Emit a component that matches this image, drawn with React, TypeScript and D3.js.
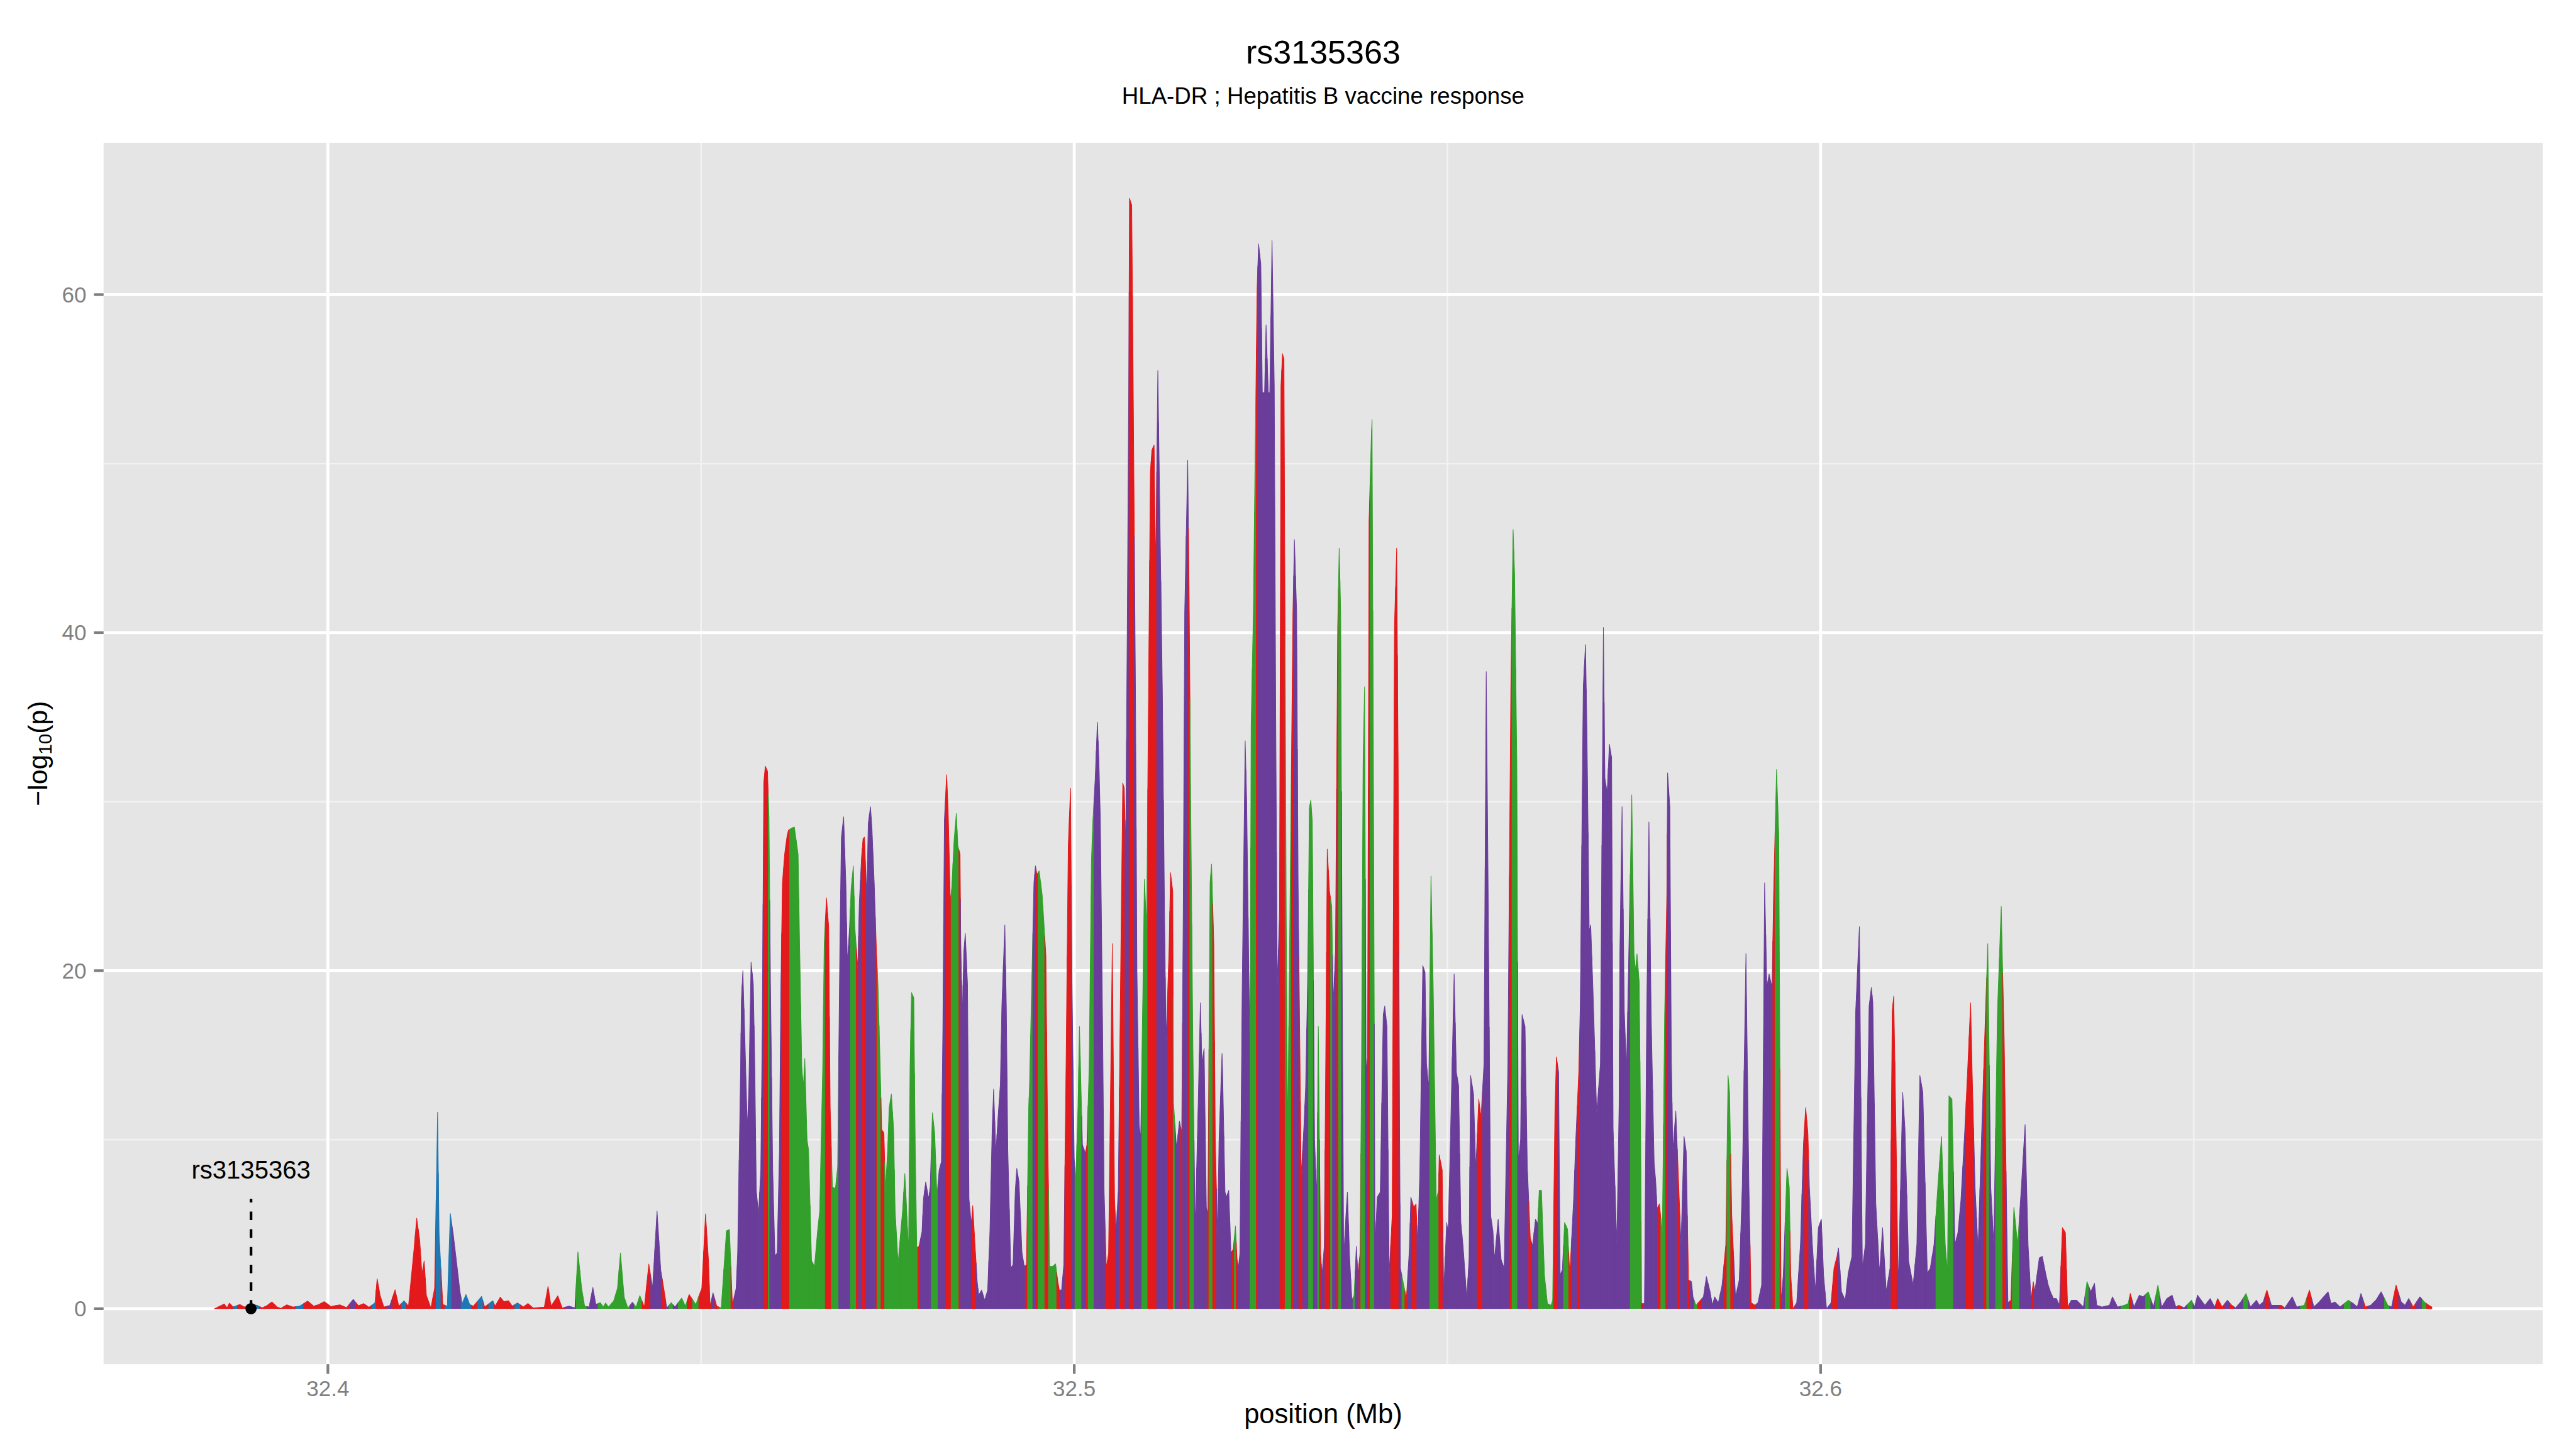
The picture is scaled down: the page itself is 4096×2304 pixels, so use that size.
import React from 'react';
import * as d3 from 'd3';

// reference canvas is 4800x2700, drawn into a 4096x2304 window via viewBox
const W = 4800;
const H = 2700;
const panel = { left: 193, right: 4738, top: 266, bottom: 2542 };

// [position (Mb), -log10(p), LD bin]  r = red, b = blue, g = green, p = purple
type Snp = [number, number, string];

const leftFlank: Snp[] = [
  [32.3848, 0, 'r'], [32.3861, 0.28, 'r'], [32.3865, 0.05, 'r'], [32.3868, 0.33, 'r'], [32.3873, 0.1, 'r'],
  [32.3876, 0.15, 'b'], [32.3882, 0.25, 'r'], [32.3888, 0.1, 'r'], [32.3897, 0.25, 'r'], [32.3905, 0.2, 'b'],
  [32.3912, 0.05, 'r'], [32.3918, 0.17, 'r'], [32.3925, 0.4, 'r'], [32.3932, 0.1, 'r'], [32.3937, 0.02, 'r'],
  [32.3945, 0.23, 'r'], [32.3953, 0.1, 'r'], [32.3962, 0.15, 'b'], [32.3973, 0.45, 'r'], [32.3981, 0.15, 'r'],
  [32.3988, 0.25, 'r'], [32.3995, 0.42, 'r'], [32.4004, 0.13, 'r'], [32.4016, 0.23, 'r'], [32.4025, 0.06, 'r'],
  [32.4034, 0.55, 'p'], [32.4041, 0.17, 'r'], [32.4048, 0.3, 'r'], [32.4055, 0.08, 'r'], [32.4063, 0.34, 'b'],
  [32.4066, 1.77, 'r'], [32.4070, 0.78, 'r'], [32.4075, 0.1, 'r'], [32.4083, 0.19, 'p'], [32.4090, 1.12, 'r'],
  [32.4095, 0.15, 'r'], [32.4102, 0.47, 'b'], [32.4108, 0.15, 'r'], [32.4115, 3.33, 'r'], [32.4119, 5.35, 'r'],
  [32.4123, 4.07, 'r'], [32.4126, 2.06, 'r'], [32.4129, 2.82, 'r'], [32.4132, 0.78, 'r'], [32.4138, 0.04, 'r'],
  [32.4143, 1.21, 'r'], [32.4147, 11.62, 'b'], [32.4149, 4.39, 'b'], [32.4154, 0.25, 'r'], [32.4160, 0.15, 'b'],
  [32.4164, 5.63, 'b'], [32.4168, 4.39, 'p'], [32.4172, 2.91, 'p'], [32.4177, 1.0, 'p'], [32.4180, 0.31, 'b'],
  [32.4185, 0.84, 'b'], [32.4190, 0.25, 'b'], [32.4195, 0.15, 'r'], [32.4206, 0.73, 'b'], [32.4210, 0.1, 'r'],
  [32.4221, 0.47, 'b'], [32.4224, 0.15, 'r'], [32.4231, 0.68, 'r'], [32.4236, 0.41, 'r'], [32.4242, 0.47, 'r'],
  [32.4247, 0.15, 'r'], [32.4254, 0.34, 'b'], [32.4262, 0.1, 'r'], [32.4268, 0.31, 'r'], [32.4275, 0.04, 'r'],
  [32.4290, 0.1, 'r'], [32.4295, 1.32, 'r'], [32.4299, 0.15, 'r'], [32.4308, 0.76, 'r'], [32.4314, 0.04, 'r'],
  [32.4323, 0.15, 'p'], [32.4331, 0.04, 'p'], [32.4335, 3.36, 'g'], [32.4340, 1.21, 'g'], [32.4344, 0.15, 'g'],
  [32.4350, 0.1, 'p'], [32.4355, 1.26, 'p'], [32.4359, 0.25, 'p'], [32.4365, 0.36, 'g'], [32.4369, 0.1, 'g'],
  [32.4372, 0.34, 'g'], [32.4376, 0.1, 'g'], [32.4383, 0.47, 'g'], [32.4388, 1.21, 'g'], [32.4392, 3.3, 'g'],
  [32.4397, 0.68, 'g'], [32.4402, 0.04, 'g'], [32.4408, 0.38, 'p'], [32.4413, 0.1, 'g'], [32.4418, 0.78, 'g'],
  [32.4424, 0.1, 'r'], [32.4430, 2.64, 'r'], [32.4435, 1.21, 'p'], [32.4441, 5.79, 'p'], [32.4446, 2.27, 'p'],
  [32.4450, 1.21, 'r'], [32.4454, 0.04, 'p'], [32.4460, 0.36, 'g'], [32.4465, 0.1, 'p'], [32.4474, 0.63, 'g'],
  [32.4479, 0.15, 'g'], [32.4484, 0.84, 'r'], [32.4493, 0.25, 'g'], [32.4501, 1.21, 'r'], [32.4506, 5.61, 'r'],
  [32.4510, 2.8, 'r'], [32.4512, 0.15, 'r'], [32.4516, 0.94, 'p'], [32.4521, 0.15, 'r'], [32.4527, 0.04, 'g'],
  [32.4534, 4.6, 'g'], [32.4538, 4.69, 'g'], [32.4542, 0.25, 'r'], [32.4547, 1.21, 'p'],
];

const blockA: Snp[] = [
  [32.4549, 3.3, 'p'], [32.4553, 14.3, 'p'], [32.4554, 18.3, 'p'], [32.4556, 20.0, 'p'], [32.4559, 15.5, 'p'],
  [32.4562, 10.6, 'p'], [32.4564, 13.1, 'p'], [32.4567, 20.5, 'p'], [32.4570, 19.2, 'p'], [32.4572, 14.3, 'p'],
  [32.4574, 7.0, 'p'], [32.4577, 5.6, 'p'], [32.4580, 8.2, 'p'], [32.4582, 16.7, 'p'], [32.4584, 31.1, 'p'],
  [32.4586, 32.1, 'r'], [32.4589, 31.8, 'r'], [32.4591, 29.1, 'g'], [32.4593, 19.2, 'p'], [32.4596, 8.2, 'p'],
  [32.4599, 3.1, 'p'], [32.4602, 3.3, 'p'], [32.4605, 9.4, 'p'], [32.4607, 19.2, 'p'], [32.4609, 25.2, 'r'],
  [32.4612, 26.9, 'r'], [32.4615, 27.9, 'r'], [32.4617, 28.3, 'r'], [32.4620, 28.4, 'g'], [32.4625, 28.5, 'g'],
  [32.4630, 26.9, 'g'], [32.4632, 21.6, 'g'], [32.4635, 14.3, 'g'], [32.4637, 13.1, 'g'], [32.4639, 14.8, 'g'],
  [32.4642, 10.0, 'g'], [32.4644, 9.4, 'g'], [32.4648, 2.85, 'g'], [32.4652, 2.5, 'g'], [32.4656, 4.55, 'g'],
  [32.4659, 5.8, 'g'], [32.4663, 14.3, 'g'], [32.4665, 21.6, 'g'], [32.4668, 24.3, 'r'], [32.4671, 22.6, 'r'],
  [32.4673, 11.9, 'r'], [32.4676, 7.2, 'g'], [32.4680, 7.1, 'g'], [32.4683, 8.4, 'g'], [32.4686, 21.6, 'p'],
  [32.4688, 27.9, 'p'], [32.4691, 29.1, 'p'], [32.4694, 25.2, 'p'], [32.4696, 20.4, 'p'], [32.4699, 22.6, 'p'],
  [32.4701, 24.8, 'g'], [32.4704, 26.2, 'g'], [32.4706, 22.6, 'g'], [32.4710, 20.1, 'r'], [32.4712, 24.0, 'p'],
  [32.4715, 26.7, 'p'], [32.4717, 27.8, 'r'], [32.4719, 27.9, 'r'], [32.4722, 24.3, 'p'], [32.4724, 28.7, 'p'],
  [32.4727, 29.7, 'p'], [32.4729, 28.4, 'p'], [32.4732, 25.2, 'p'], [32.4735, 21.1, 'r'], [32.4737, 19.2, 'g'],
  [32.4740, 14.3, 'g'], [32.4742, 10.6, 'r'], [32.4745, 10.4, 'r'], [32.4747, 7.0, 'g'], [32.4750, 9.4, 'g'],
  [32.4752, 11.9, 'g'], [32.4755, 12.7, 'g'], [32.4758, 10.6, 'g'], [32.4760, 5.8, 'g'], [32.4764, 2.7, 'g'],
  [32.4767, 4.3, 'g'], [32.4770, 5.8, 'g'], [32.4773, 8.0, 'g'], [32.4775, 6.3, 'g'], [32.4778, 3.3, 'g'],
  [32.4780, 14.3, 'g'], [32.4782, 18.7, 'g'], [32.4785, 18.4, 'g'], [32.4787, 9.4, 'g'], [32.4789, 3.6, 'g'],
  [32.4792, 3.7, 'r'], [32.4796, 4.55, 'p'], [32.4798, 6.5, 'p'], [32.4801, 7.5, 'p'], [32.4805, 6.5, 'p'],
  [32.4807, 7.2, 'p'], [32.4810, 11.6, 'g'], [32.4813, 10.4, 'g'], [32.4816, 6.7, 'g'], [32.4819, 8.2, 'p'],
  [32.4822, 8.7, 'p'], [32.4824, 16.7, 'p'], [32.4826, 28.9, 'p'], [32.4829, 31.6, 'r'], [32.4831, 29.6, 'r'],
  [32.4834, 24.0, 'r'], [32.4836, 25.0, 'g'], [32.4839, 27.7, 'g'], [32.4842, 29.3, 'g'], [32.4844, 27.4, 'g'],
  [32.4847, 26.9, 'r'], [32.4848, 21.6, 'p'], [32.4850, 17.2, 'p'], [32.4852, 21.1, 'p'], [32.4854, 22.2, 'p'],
  [32.4857, 19.2, 'p'], [32.4859, 6.5, 'p'], [32.4862, 5.0, 'p'], [32.4864, 6.1, 'r'], [32.4867, 3.8, 'r'],
  [32.4870, 1.6, 'p'], [32.4872, 0.8, 'p'], [32.4876, 1.1, 'p'], [32.4880, 0.5, 'p'], [32.4884, 1.1, 'p'],
  [32.4887, 4.55, 'p'], [32.4890, 10.6, 'p'], [32.4892, 13.0, 'p'], [32.4895, 9.2, 'p'], [32.4898, 11.4, 'p'],
  [32.4901, 13.3, 'p'], [32.4903, 17.9, 'p'], [32.4907, 22.7, 'p'], [32.4909, 17.9, 'p'], [32.4911, 9.4, 'p'],
  [32.4915, 2.4, 'p'], [32.4918, 2.6, 'p'], [32.4921, 7.0, 'p'], [32.4923, 8.3, 'p'], [32.4926, 7.5, 'p'],
  [32.4930, 3.3, 'p'], [32.4933, 2.5, 'p'], [32.4936, 2.6, 'r'], [32.4939, 11.9, 'g'], [32.4940, 13.1, 'g'],
  [32.4943, 19.2, 'g'], [32.4946, 25.2, 'p'], [32.4948, 26.2, 'p'], [32.4950, 25.7, 'r'], [32.4953, 25.9, 'g'],
  [32.4957, 24.5, 'g'], [32.4959, 23.1, 'g'], [32.4962, 20.9, 'r'], [32.4964, 11.9, 'r'], [32.4967, 2.5, 'g'],
  [32.4971, 2.5, 'g'], [32.4975, 2.65, 'g'], [32.4978, 1.6, 'r'], [32.4980, 1.1, 'r'], [32.4983, 1.1, 'p'],
  [32.4986, 2.6, 'p'], [32.4989, 14.3, 'r'], [32.4992, 27.4, 'r'], [32.4995, 30.8, 'r'],
];

const blockB: Snp[] = [
  [32.4997, 19.2, 'p'], [32.5000, 8.9, 'p'], [32.5002, 7.5, 'g'], [32.5005, 11.9, 'g'], [32.5007, 16.7, 'g'],
  [32.5009, 13.1, 'g'], [32.5011, 9.7, 'p'], [32.5015, 9.2, 'p'], [32.5017, 9.7, 'r'], [32.5020, 14.3, 'g'],
  [32.5023, 26.5, 'g'], [32.5025, 28.9, 'g'], [32.5028, 31.3, 'p'], [32.5031, 34.7, 'p'], [32.5033, 32.5, 'p'],
  [32.5035, 28.9, 'p'], [32.5038, 16.7, 'p'], [32.5040, 7.0, 'p'], [32.5043, 2.4, 'r'], [32.5046, 3.3, 'r'],
  [32.5049, 14.3, 'r'], [32.5051, 21.6, 'r'], [32.5054, 6.5, 'r'], [32.5056, 4.55, 'p'], [32.5059, 7.0, 'p'],
  [32.5062, 19.2, 'r'], [32.5065, 31.1, 'r'], [32.5067, 30.8, 'r'], [32.5069, 27.0, 'p'], [32.5071, 40.3, 'p'],
  [32.5073, 54.6, 'p'], [32.5074, 65.7, 'r'], [32.5077, 65.3, 'r'], [32.5079, 54.6, 'r'], [32.5082, 36.8, 'p'],
  [32.5084, 20.0, 'p'], [32.5087, 10.9, 'p'], [32.5089, 10.0, 'p'], [32.5092, 18.9, 'g'], [32.5094, 25.4, 'g'],
  [32.5097, 22.5, 'g'], [32.5100, 39.0, 'r'], [32.5102, 49.5, 'r'], [32.5104, 50.8, 'r'], [32.5107, 51.1, 'r'],
  [32.5109, 43.5, 'r'], [32.5112, 55.5, 'p'], [32.5114, 49.3, 'p'], [32.5118, 36.8, 'p'], [32.5121, 23.4, 'p'],
  [32.5123, 15.8, 'p'], [32.5127, 21.2, 'r'], [32.5129, 25.8, 'r'], [32.5132, 24.7, 'r'], [32.5133, 12.2, 'g'],
  [32.5137, 9.5, 'p'], [32.5141, 11.1, 'p'], [32.5144, 10.4, 'r'], [32.5146, 23.4, 'p'], [32.5148, 41.2, 'p'],
  [32.5152, 50.2, 'p'], [32.5154, 42.1, 'r'], [32.5156, 30.1, 'g'], [32.5159, 15.4, 'g'], [32.5162, 4.6, 'p'],
  [32.5166, 12.0, 'p'], [32.5169, 18.1, 'p'], [32.5171, 14.5, 'p'], [32.5174, 15.4, 'p'], [32.5177, 6.0, 'p'],
  [32.5179, 5.5, 'r'], [32.5182, 25.2, 'g'], [32.5184, 26.3, 'g'], [32.5187, 21.6, 'r'], [32.5189, 10.0, 'r'],
  [32.5192, 4.2, 'p'], [32.5194, 10.0, 'p'], [32.5198, 15.1, 'p'], [32.5199, 13.5, 'p'], [32.5202, 6.9, 'p'],
  [32.5204, 6.6, 'p'], [32.5207, 7.0, 'p'], [32.5210, 3.3, 'p'], [32.5213, 3.5, 'r'], [32.5216, 4.9, 'g'],
  [32.5218, 3.0, 'r'], [32.5220, 2.4, 'p'], [32.5222, 3.3, 'p'], [32.5225, 18.9, 'p'], [32.5229, 33.6, 'p'],
  [32.5231, 30.1, 'p'], [32.5235, 16.2, 'p'], [32.5236, 20.0, 'g'], [32.5237, 34.5, 'g'], [32.5240, 41.2, 'g'],
  [32.5243, 53.1, 'g'], [32.5245, 60.4, 'r'], [32.5247, 63.0, 'p'], [32.5250, 61.8, 'p'], [32.5252, 54.2, 'p'],
  [32.5255, 54.2, 'p'], [32.5257, 58.2, 'p'], [32.5260, 54.2, 'p'], [32.5262, 54.2, 'p'], [32.5265, 63.2, 'p'],
  [32.5268, 54.6, 'p'], [32.5270, 35.0, 'p'], [32.5272, 19.0, 'p'], [32.5275, 23.4, 'p'], [32.5277, 54.6, 'r'],
  [32.5279, 56.5, 'r'], [32.5281, 56.2, 'r'], [32.5284, 23.4, 'g'], [32.5286, 10.0, 'g'], [32.5289, 23.4, 'g'],
  [32.5293, 41.2, 'r'], [32.5295, 45.5, 'p'], [32.5298, 41.2, 'p'], [32.5300, 25.0, 'p'], [32.5302, 16.7, 'r'],
  [32.5304, 7.8, 'r'], [32.5308, 11.0, 'p'], [32.5310, 13.1, 'p'], [32.5313, 20.0, 'p'], [32.5315, 29.6, 'g'],
  [32.5317, 30.1, 'g'], [32.5319, 28.8, 'g'], [32.5322, 10.0, 'p'], [32.5325, 6.5, 'p'], [32.5327, 16.7, 'g'],
  [32.5330, 3.3, 'r'], [32.5332, 2.0, 'p'], [32.5335, 3.7, 'p'], [32.5337, 15.0, 'r'], [32.5339, 27.2, 'r'],
  [32.5342, 24.7, 'r'], [32.5345, 23.8, 'g'], [32.5347, 18.0, 'p'], [32.5350, 21.2, 'p'], [32.5353, 40.3, 'r'],
  [32.5355, 45.0, 'g'], [32.5357, 41.2, 'g'], [32.5359, 20.0, 'p'], [32.5361, 3.0, 'p'], [32.5364, 5.5, 'p'],
  [32.5366, 6.9, 'p'], [32.5369, 3.0, 'p'], [32.5372, 0.5, 'p'], [32.5375, 0.8, 'g'], [32.5378, 3.7, 'p'],
  [32.5380, 2.0, 'p'], [32.5383, 3.3, 'r'], [32.5385, 15.0, 'g'], [32.5387, 32.3, 'g'], [32.5389, 36.8, 'g'],
  [32.5391, 14.0, 'p'], [32.5393, 14.9, 'p'], [32.5395, 46.6, 'r'], [32.5398, 51.5, 'g'], [32.5399, 52.6, 'g'],
  [32.5401, 30.0, 'g'], [32.5403, 3.7, 'p'], [32.5406, 6.6, 'p'], [32.5410, 6.9, 'p'], [32.5414, 17.4, 'p'],
  [32.5416, 17.9, 'p'], [32.5419, 16.7, 'p'], [32.5422, 2.0, 'p'], [32.5426, 5.5, 'r'], [32.5429, 40.3, 'r'],
  [32.5432, 45.0, 'r'], [32.5434, 32.3, 'r'], [32.5436, 10.0, 'p'], [32.5437, 2.4, 'p'], [32.5441, 1.5, 'g'],
  [32.5445, 0.6, 'r'], [32.5449, 3.5, 'p'], [32.5451, 6.6, 'p'], [32.5455, 6.0, 'r'], [32.5458, 6.2, 'r'],
  [32.5460, 3.7, 'p'], [32.5463, 8.0, 'p'], [32.5467, 20.3, 'p'], [32.5470, 19.9, 'p'], [32.5472, 14.5, 'p'],
  [32.5475, 13.0, 'p'], [32.5478, 25.6, 'g'], [32.5481, 18.9, 'g'], [32.5485, 6.4, 'g'], [32.5488, 7.0, 'g'],
  [32.5489, 9.1, 'r'], [32.5493, 8.2, 'r'], [32.5495, 1.0, 'p'], [32.5499, 5.1, 'p'], [32.5501, 4.5, 'p'],
];

const blockC: Snp[] = [
  [32.5504, 10.0, 'p'], [32.5509, 19.8, 'p'], [32.5512, 14.0, 'p'], [32.5515, 13.2, 'p'], [32.5518, 5.1, 'p'],
  [32.5521, 3.7, 'p'], [32.5526, 0.6, 'p'], [32.5529, 3.0, 'p'], [32.5531, 13.8, 'p'], [32.5535, 12.7, 'p'],
  [32.5538, 8.2, 'p'], [32.5542, 12.4, 'r'], [32.5545, 11.3, 'r'], [32.5549, 14.5, 'p'], [32.5552, 37.7, 'p'],
  [32.5554, 27.8, 'p'], [32.5558, 5.5, 'p'], [32.5561, 4.6, 'p'], [32.5563, 2.9, 'p'], [32.5568, 5.3, 'p'],
  [32.5572, 2.9, 'p'], [32.5576, 2.4, 'p'], [32.5581, 14.5, 'p'], [32.5585, 36.8, 'r'], [32.5588, 46.1, 'g'],
  [32.5590, 43.5, 'g'], [32.5593, 32.3, 'g'], [32.5595, 8.7, 'p'], [32.5598, 10.0, 'p'], [32.5600, 17.4, 'p'],
  [32.5604, 16.7, 'p'], [32.5607, 8.5, 'p'], [32.5611, 4.2, 'r'], [32.5614, 3.7, 'p'], [32.5618, 5.3, 'p'],
  [32.5621, 5.0, 'p'], [32.5623, 7.0, 'g'], [32.5626, 7.0, 'g'], [32.5630, 2.0, 'g'], [32.5634, 0.3, 'g'],
  [32.5639, 0.2, 'g'], [32.5641, 0.5, 'g'], [32.5644, 11.6, 'r'], [32.5646, 14.9, 'r'], [32.5649, 14.0, 'p'],
  [32.5651, 2.0, 'p'], [32.5654, 2.3, 'p'], [32.5657, 5.1, 'g'], [32.5661, 4.7, 'g'], [32.5664, 2.0, 'r'],
  [32.5669, 6.4, 'p'], [32.5672, 10.0, 'p'], [32.5676, 14.0, 'r'], [32.5678, 18.0, 'p'], [32.5682, 36.8, 'p'],
  [32.5685, 39.3, 'p'], [32.5687, 34.0, 'p'], [32.5690, 22.3, 'p'], [32.5692, 22.7, 'p'], [32.5695, 18.9, 'p'],
  [32.5700, 11.6, 'p'], [32.5705, 14.5, 'p'], [32.5709, 40.3, 'p'], [32.5711, 31.4, 'p'], [32.5714, 30.5, 'p'],
  [32.5717, 33.4, 'p'], [32.5720, 32.6, 'p'], [32.5722, 10.7, 'p'], [32.5727, 3.8, 'p'], [32.5730, 12.0, 'p'],
  [32.5731, 21.0, 'p'], [32.5734, 29.7, 'p'], [32.5737, 17.6, 'p'], [32.5740, 14.1, 'p'], [32.5743, 21.0, 'p'],
  [32.5747, 30.4, 'g'], [32.5750, 21.0, 'g'], [32.5752, 20.0, 'g'], [32.5754, 21.0, 'g'], [32.5757, 19.3, 'g'],
  [32.5759, 10.0, 'g'], [32.5760, 0.3, 'r'], [32.5764, 0.3, 'p'], [32.5767, 17.3, 'p'], [32.5770, 28.8, 'p'],
  [32.5773, 17.3, 'p'], [32.5777, 8.6, 'p'], [32.5779, 7.6, 'p'], [32.5781, 5.9, 'p'], [32.5784, 6.2, 'r'],
  [32.5788, 4.5, 'g'], [32.5791, 17.3, 'g'], [32.5794, 24.5, 'r'], [32.5795, 31.7, 'p'], [32.5798, 29.7, 'p'],
  [32.5800, 15.0, 'p'], [32.5802, 9.3, 'p'], [32.5806, 11.7, 'p'], [32.5810, 7.2, 'r'], [32.5813, 3.8, 'p'],
  [32.5817, 10.2, 'p'], [32.5820, 9.3, 'p'], [32.5823, 1.7, 'r'], [32.5827, 1.6, 'p'], [32.5829, 0.7, 'p'],
  [32.5833, 0.2, 'g'], [32.5838, 0.45, 'r'], [32.5843, 0.7, 'p'], [32.5847, 1.9, 'p'], [32.5852, 1.0, 'p'],
  [32.5855, 0.2, 'p'], [32.5858, 0.7, 'p'], [32.5863, 0.35, 'p'], [32.5868, 1.4, 'p'], [32.5873, 3.8, 'r'],
  [32.5876, 13.8, 'g'], [32.5878, 12.8, 'g'], [32.5881, 5.5, 'r'], [32.5886, 0.7, 'p'], [32.5891, 1.7, 'p'],
  [32.5895, 7.2, 'p'], [32.5900, 21.0, 'p'], [32.5904, 7.2, 'p'], [32.5907, 0.35, 'r'], [32.5912, 0.2, 'r'],
  [32.5916, 0.35, 'p'], [32.5921, 1.4, 'p'], [32.5925, 25.2, 'p'], [32.5928, 19.0, 'p'], [32.5931, 19.8, 'p'],
  [32.5935, 19.0, 'p'], [32.5937, 24.5, 'r'], [32.5941, 31.9, 'g'], [32.5944, 28.0, 'g'], [32.5947, 0.35, 'r'],
  [32.5950, 2.0, 'p'], [32.5955, 8.3, 'g'], [32.5958, 7.2, 'g'], [32.5960, 2.0, 'r'], [32.5963, 0, 'r'],
  [32.5968, 0.35, 'p'], [32.5973, 3.8, 'p'], [32.5977, 9.7, 'p'], [32.5980, 11.9, 'r'], [32.5983, 10.4, 'r'],
  [32.5985, 7.2, 'p'], [32.5989, 3.8, 'p'], [32.5993, 1.0, 'p'], [32.5997, 4.8, 'p'], [32.6001, 5.3, 'p'],
  [32.6004, 2.0, 'p'], [32.6008, 0, 'p'], [32.6014, 0.35, 'p'], [32.6018, 2.4, 'r'], [32.6022, 3.1, 'r'],
  [32.6024, 3.6, 'p'], [32.6028, 1.0, 'p'], [32.6033, 0.5, 'p'], [32.6037, 2.1, 'p'], [32.6042, 3.1, 'p'],
  [32.6047, 17.6, 'p'], [32.6052, 22.6, 'p'], [32.6056, 2.4, 'p'], [32.6060, 3.8, 'p'], [32.6065, 17.9, 'p'],
  [32.6068, 19.0, 'p'], [32.6070, 18.1, 'p'], [32.6074, 6.2, 'p'], [32.6079, 2.1, 'p'], [32.6083, 4.8, 'p'],
  [32.6088, 1.0, 'p'], [32.6093, 2.4, 'p'], [32.6096, 17.6, 'r'], [32.6098, 18.5, 'r'], [32.6101, 10.7, 'r'],
  [32.6104, 1.2, 'p'], [32.6110, 12.8, 'p'], [32.6113, 10.7, 'p'], [32.6118, 2.8, 'p'], [32.6124, 1.4, 'p'],
  [32.6129, 3.8, 'p'], [32.6133, 13.8, 'p'], [32.6137, 12.8, 'p'], [32.6143, 2.1, 'p'], [32.6147, 2.4, 'p'],
  [32.6152, 3.8, 'p'], [32.6157, 7.2, 'g'], [32.6162, 10.2, 'g'], [32.6167, 3.8, 'g'], [32.6170, 2.1, 'g'],
  [32.6172, 12.6, 'g'], [32.6176, 12.4, 'g'], [32.6180, 3.8, 'p'], [32.6184, 4.5, 'p'], [32.6188, 6.4, 'p'],
  [32.6193, 10.4, 'p'], [32.6197, 14.1, 'r'], [32.6201, 18.1, 'r'], [32.6203, 14.1, 'r'], [32.6207, 7.2, 'p'],
  [32.6211, 3.5, 'p'], [32.6216, 10.7, 'p'], [32.6221, 17.6, 'r'], [32.6224, 21.6, 'g'], [32.6228, 7.2, 'p'],
  [32.6232, 3.8, 'p'], [32.6237, 17.6, 'g'], [32.6242, 23.8, 'g'], [32.6246, 15.9, 'r'], [32.6251, 0.35, 'p'],
  [32.6255, 0.5, 'r'], [32.6259, 6.0, 'g'], [32.6264, 3.8, 'g'], [32.6269, 7.2, 'p'], [32.6274, 10.9, 'p'],
  [32.6278, 3.8, 'p'], [32.6282, 0.5, 'p'],
];

const rightFlank: Snp[] = [
  [32.6285, 1.6, 'r'], [32.6287, 1.0, 'p'], [32.6293, 3.0, 'p'], [32.6297, 3.1, 'p'], [32.6302, 2.0, 'p'],
  [32.6305, 1.4, 'p'], [32.6308, 1.0, 'p'], [32.6312, 0.6, 'p'], [32.6316, 0.6, 'p'], [32.6320, 0.2, 'p'],
  [32.6324, 4.8, 'r'], [32.6328, 4.5, 'r'], [32.6331, 0.1, 'r'], [32.6336, 0.5, 'p'], [32.6343, 0.5, 'p'],
  [32.6352, 0.1, 'p'], [32.6357, 1.6, 'g'], [32.6362, 1.0, 'p'], [32.6367, 1.5, 'p'], [32.6370, 0.2, 'p'],
  [32.6377, 0.1, 'p'], [32.6387, 0.2, 'p'], [32.6391, 0.7, 'p'], [32.6398, 0.1, 'p'], [32.6407, 0.2, 'g'],
  [32.6412, 0.3, 'g'], [32.6415, 0.9, 'r'], [32.6420, 0.1, 'p'], [32.6427, 0.8, 'p'], [32.6432, 0.7, 'p'],
  [32.6439, 1.0, 'g'], [32.6446, 0.1, 'p'], [32.6452, 1.4, 'g'], [32.6457, 0.1, 'p'], [32.6464, 0.6, 'p'],
  [32.6471, 0.8, 'p'], [32.6476, 0.1, 'p'], [32.6480, 0.2, 'r'], [32.6487, 0.05, 'p'], [32.6497, 0.5, 'g'],
  [32.6501, 0.1, 'p'], [32.6505, 0.8, 'p'], [32.6515, 0.2, 'p'], [32.6522, 0.6, 'p'], [32.6528, 0.1, 'p'],
  [32.6532, 0.6, 'r'], [32.6538, 0.1, 'r'], [32.6545, 0.5, 'p'], [32.6551, 0.2, 'r'], [32.6556, 0.05, 'p'],
  [32.6563, 0.4, 'p'], [32.6570, 0.9, 'g'], [32.6576, 0.1, 'p'], [32.6584, 0.5, 'p'], [32.6588, 0.2, 'p'],
  [32.6593, 0.4, 'p'], [32.6598, 1.1, 'r'], [32.6604, 0.2, 'p'], [32.6611, 0.2, 'p'], [32.6617, 0.2, 'r'],
  [32.6622, 0.05, 'p'], [32.6632, 0.7, 'p'], [32.6638, 0.1, 'p'], [32.6648, 0.2, 'g'], [32.6655, 1.1, 'r'],
  [32.6661, 0.1, 'p'], [32.6668, 0.4, 'p'], [32.6680, 1.0, 'p'], [32.6684, 0.3, 'p'], [32.6689, 0.4, 'p'],
  [32.6696, 0.1, 'p'], [32.6707, 0.5, 'g'], [32.6714, 0.3, 'p'], [32.6719, 0.1, 'p'], [32.6724, 0.9, 'p'],
  [32.6730, 0.1, 'r'], [32.6737, 0.2, 'p'], [32.6744, 0.5, 'p'], [32.6751, 1.0, 'p'], [32.6760, 0.2, 'g'],
  [32.6765, 0.1, 'p'], [32.6771, 1.4, 'r'], [32.6778, 0.4, 'p'], [32.6783, 0.2, 'p'], [32.6788, 0.6, 'p'],
  [32.6794, 0.1, 'r'], [32.6803, 0.7, 'p'], [32.6809, 0.4, 'g'], [32.6815, 0.2, 'r'], [32.6819, 0.1, 'r'],
];

const binColors: Record<string, string> = {
  r: '#E31A1C',
  b: '#1F78B4',
  g: '#33A02C',
  p: '#6A3D9A',
};

const xMajor = [32.4, 32.5, 32.6];
const xMinor = [32.35, 32.45, 32.55, 32.65];
const yMajor = [0, 20, 40, 60];
const yMinor = [10, 30, 50];

const leadSnp = { name: 'rs3135363', pos: 32.3897, logP: 0, stemTop: 6.5, labelAt: 7.7 };
const title = 'rs3135363';
const subtitle = 'HLA-DR ; Hepatitis B vaccine response';

const font = '"Liberation Sans", Arial, Helvetica, sans-serif';

export default function App() {
  const snps = [...leftFlank, ...blockA, ...blockB, ...blockC, ...rightFlank];

  // ggplot style 5% expansion on both axes
  const xExt = d3.extent(snps, (d) => d[0]) as [number, number];
  const xPad = (xExt[1] - xExt[0]) * 0.05;
  const yMax = d3.max(snps, (d) => d[1]) as number;
  const yPad = yMax * 0.05;

  const x = d3.scaleLinear().domain([xExt[0] - xPad, xExt[1] + xPad]).range([panel.left, panel.right]);
  const y = d3.scaleLinear().domain([-yPad, yMax + yPad]).range([panel.bottom, panel.top]);

  const area = d3.area<[number, number]>()
    .x((d) => x(d[0]))
    .y0(y(0))
    .y1((d) => y(d[1]));

  // each SNP owns the stretch of the profile between the midpoints to its neighbours
  const pieces = snps.map((s, i) => {
    const cur: [number, number] = [s[0], s[1]];
    const prev = i > 0 ? snps[i - 1] : s;
    const next = i < snps.length - 1 ? snps[i + 1] : s;
    const left: [number, number] = [(prev[0] + s[0]) / 2, (prev[1] + s[1]) / 2];
    const right: [number, number] = [(next[0] + s[0]) / 2, (next[1] + s[1]) / 2];
    return { d: area([left, cur, right]) as string, color: binColors[s[2]] };
  });

  const fmtX = d3.format('.1f');
  const cx = (panel.left + panel.right) / 2;
  const cy = (panel.top + panel.bottom) / 2;

  return (
    <svg
      width={4096}
      height={2304}
      viewBox={`0 0 ${W} ${H}`}
      style={{ position: 'absolute', left: 0, top: 0, display: 'block' }}
      fontFamily={font}
    >
      <rect x={0} y={0} width={W} height={H} fill="#FFFFFF" />

      <text x={cx} y={118} textAnchor="middle" fontSize={61} fill="#000">{title}</text>
      <text x={cx} y={193} textAnchor="middle" fontSize={43} fill="#000">{subtitle}</text>

      <rect x={panel.left} y={panel.top} width={panel.right - panel.left} height={panel.bottom - panel.top} fill="#E5E5E5" />

      {xMinor.filter((v) => x(v) > panel.left && x(v) < panel.right).map((v) => (
        <line key={`xm${v}`} x1={x(v)} x2={x(v)} y1={panel.top} y2={panel.bottom} stroke="#F2F2F2" strokeWidth={3} />
      ))}
      {yMinor.map((v) => (
        <line key={`ym${v}`} x1={panel.left} x2={panel.right} y1={y(v)} y2={y(v)} stroke="#F2F2F2" strokeWidth={3} />
      ))}
      {xMajor.map((v) => (
        <line key={`xM${v}`} x1={x(v)} x2={x(v)} y1={panel.top} y2={panel.bottom} stroke="#FFFFFF" strokeWidth={5.5} />
      ))}
      {yMajor.map((v) => (
        <line key={`yM${v}`} x1={panel.left} x2={panel.right} y1={y(v)} y2={y(v)} stroke="#FFFFFF" strokeWidth={5.5} />
      ))}

      <g>
        {pieces.map((p, i) => (
          <path key={i} d={p.d} fill={p.color} stroke={p.color} strokeWidth={1.2} strokeLinejoin="round" />
        ))}
      </g>

      <line
        x1={x(leadSnp.pos)} x2={x(leadSnp.pos)} y1={y(leadSnp.logP)} y2={y(leadSnp.stemTop)}
        stroke="#000" strokeWidth={5} strokeDasharray="16 17"
      />
      <circle cx={x(leadSnp.pos)} cy={y(leadSnp.logP)} r={10.5} fill="#000" />
      <text x={x(leadSnp.pos)} y={y(leadSnp.labelAt)} textAnchor="middle" fontSize={47} fill="#000">{leadSnp.name}</text>

      {xMajor.map((v) => (
        <g key={`xt${v}`}>
          <line x1={x(v)} x2={x(v)} y1={panel.bottom} y2={panel.bottom + 18} stroke="#7F7F7F" strokeWidth={5} />
          <text x={x(v)} y={2602} textAnchor="middle" fontSize={41} fill="#7F7F7F">{fmtX(v)}</text>
        </g>
      ))}
      {yMajor.map((v) => (
        <g key={`yt${v}`}>
          <line x1={panel.left - 18} x2={panel.left} y1={y(v)} y2={y(v)} stroke="#7F7F7F" strokeWidth={5} />
          <text x={161} y={y(v) + 14.5} textAnchor="end" fontSize={41} fill="#7F7F7F">{v}</text>
        </g>
      ))}

      <text x={cx} y={2652} textAnchor="middle" fontSize={51} fill="#000">position (Mb)</text>
      <text transform={`translate(88,${cy}) rotate(-90)`} textAnchor="middle" fontSize={50} fill="#000">
        −log<tspan fontSize={35} dy={8}>10</tspan><tspan dy={-8}>(p)</tspan>
      </text>
    </svg>
  );
}
